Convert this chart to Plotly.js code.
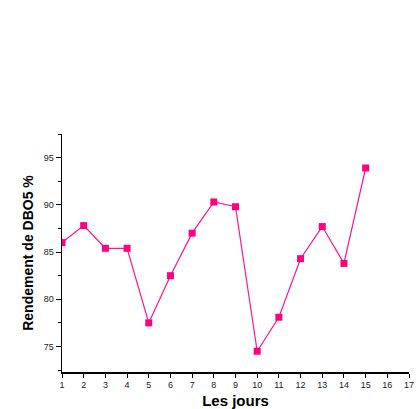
<!DOCTYPE html>
<html><head><meta charset="utf-8">
<script src="https://cdn.plot.ly/plotly-3.0.1.min.js"></script>
<style>html,body{margin:0;padding:0;background:#fff}#c{width:417px;height:409px}</style>
</head><body><div id="c"></div>
<script>
const days = [1,2,3,4,5,6,7,8,9,10,11,12,13,14,15];
const rendement = [86.0,87.8,85.4,85.4,77.5,82.5,87.0,90.3,89.8,74.5,78.1,84.3,87.7,83.8,93.9];
const xTicks = [1,2,3,4,5,6,7,8,9,10,11,12,13,14,15,16,17];
const yTicks = [75,80,85,90,95];

Plotly.newPlot('c',[{
  x: days, y: rendement, type:'scatter', mode:'lines+markers',
  line:{color:'#ff1493',width:1.2},
  marker:{symbol:'square',size:7,color:'#ff0080'}
}],{
  width:417,height:409,
  margin:{l:62,r:8,t:134,b:37},
  paper_bgcolor:'#fff',plot_bgcolor:'#fff',
  showlegend:false,
  font:{family:'Liberation Sans, Arial, sans-serif',color:'#000'},
  xaxis:{range:[1,17],tickvals:xTicks,ticktext:xTicks.map(String),
    showgrid:false,zeroline:false,showline:true,linecolor:'#000',linewidth:1.5,
    ticks:'outside',ticklen:4,tickwidth:1,tickcolor:'#000',
    tickfont:{size:9,color:'#222'},
    title:{text:'<b>Les jours</b>',font:{size:15},standoff:6}},
  yaxis:{range:[72.3,97.5],tickvals:yTicks,ticktext:yTicks.map(String),
    showgrid:false,zeroline:false,showline:true,linecolor:'#000',linewidth:1.5,
    ticks:'outside',ticklen:5,tickwidth:1,tickcolor:'#000',
    tickfont:{size:9,color:'#222'},
    minor:{dtick:2.5,tick0:72.5,ticks:'outside',ticklen:3,tickcolor:'#000',showgrid:false},
    title:{text:'<b>Rendement de DBO5 %</b>',font:{size:14},standoff:7}}
},{displayModeBar:false,staticPlot:true});
</script></body></html>
